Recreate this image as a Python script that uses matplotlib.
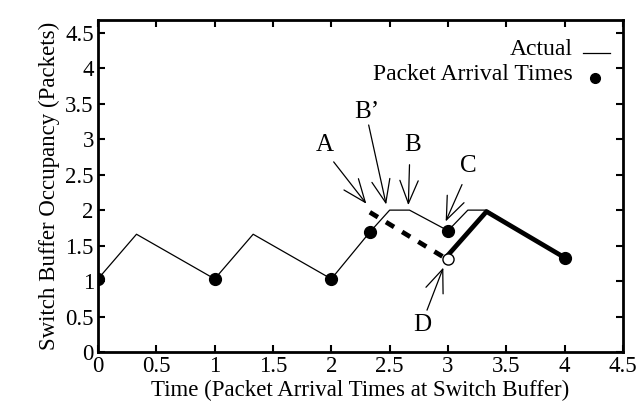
import matplotlib.pyplot as plt

plt.rcParams['font.family'] = ['Liberation Serif', 'DejaVu Serif']
plt.rcParams['font.size'] = 16.5

# queue occupancy, thin "actual" curve
actual_x = [0, 0.33, 1, 1.33, 2, 2.33, 2.5, 2.67, 3, 3.17, 3.33, 4]
actual_y = [1.03, 1.66, 1.03, 1.66, 1.03, 1.69, 2.0, 2.0, 1.71, 2.0, 2.0, 1.33]

# thick dashed (what-if) and thick solid segments
dashed_x = [2.33, 2.97]
dashed_y = [1.97, 1.33]
thick_x = [2.97, 3.33, 4]
thick_y = [1.31, 1.98, 1.33]

# packet arrivals
arrive_x = [0, 1, 2, 2.33, 3, 4]
arrive_y = [1.03, 1.03, 1.03, 1.69, 1.71, 1.33]
open_x = [3]
open_y = [1.31]

# annotation labels: text, label pos, arrow tail, arrow head
notes = [
    ('A', (1.94, 2.92), (2.02, 2.68), (2.30, 2.09)),
    ("B\u2019", (2.30, 3.39), (2.32, 3.20), (2.47, 2.08)),
    ('B', (2.70, 2.92), (2.67, 2.64), (2.66, 2.07)),
    ('C', (3.17, 2.62), (3.12, 2.36), (2.98, 1.84)),
    ('D', (2.78, 0.38), (2.82, 0.59), (2.96, 1.19)),
]

ticks = [0, 0.5, 1, 1.5, 2, 2.5, 3, 3.5, 4, 4.5]
tick_labels = ['0', '0.5', '1', '1.5', '2', '2.5', '3', '3.5', '4', '4.5']

fig = plt.figure(figsize=(6.38, 4.15), dpi=100)
ax = fig.add_axes([0.1536, 0.1518, 0.8229, 0.8])

ax.plot(actual_x, actual_y, color='black', linewidth=0.9, zorder=2)
ax.plot(dashed_x, dashed_y, color='black', linewidth=3.4, linestyle=(0, (2.0, 2.0)), zorder=2)
ax.plot(thick_x, thick_y, color='black', linewidth=3.4, solid_capstyle='butt', zorder=3)
ax.plot(arrive_x, arrive_y, 'o', color='black', markersize=8.5, zorder=4)
ax.plot(open_x, open_y, 'o', markerfacecolor='white', markeredgecolor='black',
        markersize=8, markeredgewidth=1.0, zorder=4)

for label, txt_pos, tail, head in notes:
    ax.text(txt_pos[0], txt_pos[1], label, fontsize=18, ha='center', va='center')
    ax.annotate('', xy=head, xytext=tail,
                arrowprops=dict(arrowstyle='->,head_length=1.0,head_width=0.4',
                                color='black', linewidth=0.9, shrinkA=0, shrinkB=0))

ax.set_xlim(0, 4.5)
ax.set_ylim(0, 4.68)
ax.set_xticks(ticks)
ax.set_xticklabels(tick_labels)
ax.set_yticks(ticks)
ax.set_yticklabels(tick_labels)
ax.tick_params(direction='in', length=5, width=1.5, top=True, right=True,
               labelsize=16.5, pad=3)
for s in ax.spines.values():
    s.set_linewidth(2)

ax.set_xlabel('Time (Packet Arrival Times at Switch Buffer)', fontsize=16.5, labelpad=2)
ax.set_ylabel('Switch Buffer Occupancy (Packets)', fontsize=16.5, labelpad=4)

# gnuplot-like key: text right aligned, sample on the right
ax.text(0.905, 0.91, 'Actual', transform=ax.transAxes, ha='right', va='center', fontsize=17)
ax.plot([0.924, 0.976], [0.9, 0.9], transform=ax.transAxes, color='black', linewidth=0.9)
ax.text(0.905, 0.836, 'Packet Arrival Times', transform=ax.transAxes, ha='right', va='center', fontsize=17)
ax.plot([0.947], [0.826], 'o', transform=ax.transAxes, color='black', markersize=7)

fig.savefig('out.png', dpi=100)
